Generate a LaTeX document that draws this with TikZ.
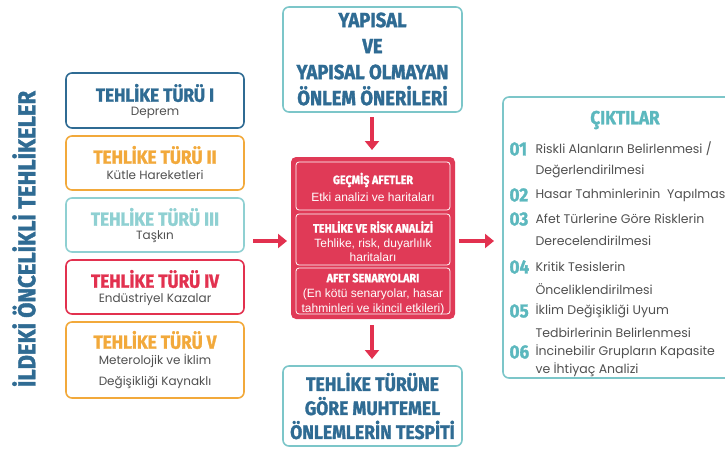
\documentclass[tikz,border=0pt]{standalone}
\usepackage{fontspec}
\setmainfont{Liberation Sans}
\newfontfamily\headf{Fira Sans}[FakeStretch=0.9, BoldFeatures={FakeBold=1.5}]
\newfontfamily\popf{Poppins}
\usetikzlibrary{arrows.meta}
\definecolor{cblue}{HTML}{2F6B93}
\definecolor{corange}{HTML}{F2A93B}
\definecolor{cteal}{HTML}{8FD0D2}
\definecolor{cred}{HTML}{E2314F}
\definecolor{cbox}{HTML}{E03A57}
\definecolor{cborder}{HTML}{7CC6C9}
\definecolor{cnum}{HTML}{5CB8BE}
\definecolor{cgray}{HTML}{505050}
\tikzset{
  hbox/.style={draw, line width=1.6pt, rounded corners=6pt},
  head/.style={font=\headf\bfseries\fontsize{19}{20}\selectfont},
  sub/.style={font=\popf\fontsize{12}{21}\selectfont, text=cgray},
  arr/.style={draw=cred, line width=4pt, -{Triangle[length=9pt,width=14pt]}},
  inner/.style={draw=white, line width=0.8pt, rounded corners=3pt},
  num/.style={font=\headf\bfseries\fontsize{19}{20}\selectfont, text=cnum, anchor=west},
  item/.style={font=\popf\fontsize{12.5}{14}\selectfont, text=cgray, anchor=west},
  mhead/.style={text=white, font=\headf\bfseries\fontsize{12}{13}\selectfont},
  mtext/.style={text=white, align=center, font=\fontsize{12}{14.5}\selectfont},
}
\begin{document}
\begin{tikzpicture}[x=1pt,y=-1pt]
\useasboundingbox (0,0) rectangle (725,450);
% left title
\node[rotate=90, text=cblue, font=\headf\bfseries\fontsize{24.5}{26}\selectfont] (title) at (24,239) {İLDEKİ ÖNCELİKLİ TEHLİKELER};
% left boxes
\draw[hbox, draw=cblue] (66,73) rectangle (244,128);
\node[head, text=cblue] (t1) at (155,93) {TEHLİKE TÜRÜ I};
\node[sub] (s1) at (155,113) {Deprem};
\draw[hbox, draw=corange] (66,136) rectangle (244,190);
\node[head, text=corange] (t2) at (155,155) {TEHLİKE TÜRÜ II};
\node[sub] (s2) at (155,175) {Kütle Hareketleri};
\draw[hbox, draw=cteal] (66,198) rectangle (244,252);
\node[head, text=cteal] (t3) at (155,217) {TEHLİKE TÜRÜ III};
\node[sub] (s3) at (155,237) {Taşkın};
\draw[hbox, draw=cred] (66,260) rectangle (244,314);
\node[head, text=cred] (t4) at (155,279) {TEHLİKE TÜRÜ IV};
\node[sub] (s4) at (155,299) {Endüstriyel Kazalar};
\draw[hbox, draw=corange] (66,322) rectangle (244,398);
\node[head, text=corange] (t5) at (155,340) {TEHLİKE TÜRÜ V};
\node[sub, align=center] (s5) at (155,371) {Meterolojik ve İklim\\Değişikliği Kaynaklı};
% top box
\draw[hbox, draw=cborder] (283,7) rectangle (462,112);
\node[text=cblue, align=center, font=\headf\bfseries\fontsize{20.5}{26}\selectfont] (top) at (372.5,59) {YAPISAL\\VE\\YAPISAL OLMAYAN\\ÖNLEM ÖNERİLERİ};
% middle box
\fill[cbox, rounded corners=5pt] (291,157) rectangle (455,319);
\draw[inner] (296,162) rectangle (450,210);
\draw[inner] (296,214) rectangle (450,265);
\draw[inner] (296,268) rectangle (450,314);
\node[mhead] (m1) at (373,180) {GEÇMİŞ AFETLER};
\node[mtext] (m1b) at (373,197) {Etki analizi ve haritaları};
\node[mhead] (m2) at (373,227) {TEHLİKE VE RİSK ANALİZİ};
\node[mtext] (m2b) at (373,250) {Tehlike, risk, duyarlılık\\haritaları};
\node[mhead] (m3) at (373,278) {AFET SENARYOLARI};
\node[mtext] (m3b) at (373,302) {(En kötü senaryolar, hasar\\tahminleri ve ikincil etkileri)};
% bottom box
\draw[hbox, draw=cborder] (283,366) rectangle (462,446);
\node[text=cblue, align=center, font=\headf\bfseries\fontsize{19.5}{24}\selectfont] (bot) at (372.5,406) {TEHLİKE TÜRÜNE\\GÖRE MUHTEMEL\\ÖNLEMLERİN TESPİTİ};
% right box
\draw[hbox, draw=cborder] (503,97) rectangle (740,378);
\node[text=cnum, font=\headf\bfseries\fontsize{19}{20}\selectfont] (cik) at (625,120) {ÇIKTILAR};
\node[num] (n1) at (506,149) {01};
\node[item] (i1) at (532,149) {Riskli Alanların Belirlenmesi /};
\node[item] (i1b) at (532,171) {Değerlendirilmesi};
\node[num] (n2) at (506,195) {02};
\node[item] (i2) at (532,195) {Hasar Tahminlerinin\ \ Yapılması};
\node[num] (n3) at (506,219) {03};
\node[item] (i3) at (532,219) {Afet Türlerine Göre Risklerin};
\node[item] (i3b) at (532,241) {Derecelendirilmesi};
\node[num] (n4) at (506,267) {04};
\node[item] (i4) at (532,267) {Kritik Tesislerin};
\node[item] (i4b) at (532,289) {Önceliklendirilmesi};
\node[num] (n5) at (506,311) {05};
\node[item] (i5) at (532,311) {İklim Değişikliği Uyum};
\node[item] (i5b) at (532,333) {Tedbirlerinin Belirlenmesi};
\node[num] (n6) at (506,352) {06};
\node[item] (i6) at (532,352) {İncinebilir Grupların Kapasite};
\node[item] (i6b) at (532,370) {ve İhtiyaç Analizi};
% arrows
\coordinate (a1s) at (372,117);
\coordinate (a1e) at (372,150);
\draw[arr] (a1s) -- (a1e);
\coordinate (a2s) at (372,325);
\coordinate (a2e) at (372,359);
\draw[arr] (a2s) -- (a2e);
\coordinate (a3s) at (253,241);
\coordinate (a3e) at (287,241);
\draw[arr] (a3s) -- (a3e);
\coordinate (a4s) at (459,241);
\coordinate (a4e) at (494,241);
\draw[arr] (a4s) -- (a4e);
\end{tikzpicture}
\end{document}
